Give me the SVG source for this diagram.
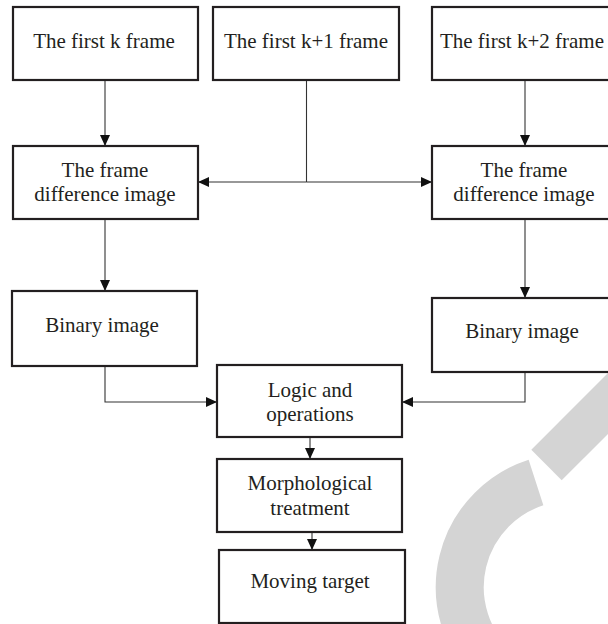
<svg xmlns="http://www.w3.org/2000/svg" width="608" height="624" viewBox="0 0 608 624">
<defs>
<style>
.box{fill:#fff;stroke:#231f20;stroke-width:2.2}
.lbl{font-family:"Liberation Serif","Times New Roman",serif;font-size:21px;fill:#231f20;text-anchor:middle}
.con{fill:none;stroke:#333;stroke-width:1.1}
.wm{fill:none;stroke:#d4d4d4}
</style>
<marker id="ah" markerUnits="userSpaceOnUse" markerWidth="11" markerHeight="10" refX="11" refY="5" orient="auto">
<path d="M0,0 L11,5 L0,10 z" fill="#111"/>
</marker>
</defs>
<rect width="608" height="624" fill="#fff"/>
<g id="watermark">
<path class="wm" stroke-width="48" d="M536,482.5 A110,110 0 0 0 492,665"/>
<path class="wm" stroke-width="43" d="M546.5,465 L680,331.5"/>
</g>
<g id="connectors">
<path class="con" d="M105,80 V146" marker-end="url(#ah)"/>
<path class="con" d="M525,80 V146" marker-end="url(#ah)"/>
<path class="con" d="M306.5,80 V182"/>
<path class="con" d="M306.5,182 H198" marker-end="url(#ah)"/>
<path class="con" d="M306.5,182 H432" marker-end="url(#ah)"/>
<path class="con" d="M105,219 V291" marker-end="url(#ah)"/>
<path class="con" d="M525,219 V298" marker-end="url(#ah)"/>
<path class="con" d="M105,366 V402 H217" marker-end="url(#ah)"/>
<path class="con" d="M525,372 V402 H402" marker-end="url(#ah)"/>
<path class="con" d="M310,437 V459" marker-end="url(#ah)"/>
<path class="con" d="M312,532 V550" marker-end="url(#ah)"/>
</g>
<g id="frame-k">
<rect class="box" x="13" y="7" width="185" height="73"/>
<text class="lbl" x="104" y="48">The first k frame</text>
</g>
<g id="frame-k1">
<rect class="box" x="213" y="7" width="186" height="73"/>
<text class="lbl" x="306" y="48">The first k+1 frame</text>
</g>
<g id="frame-k2">
<rect class="box" x="432" y="7" width="190" height="73"/>
<text class="lbl" x="522" y="48">The first k+2 frame</text>
</g>
<g id="diff-left">
<rect class="box" x="13" y="146" width="185" height="73"/>
<text class="lbl" x="105" y="177">The frame</text>
<text class="lbl" x="105" y="201">difference image</text>
</g>
<g id="diff-right">
<rect class="box" x="432" y="146" width="190" height="73"/>
<text class="lbl" x="524" y="177">The frame</text>
<text class="lbl" x="524" y="201">difference image</text>
</g>
<g id="binary-left">
<rect class="box" x="12" y="291" width="185" height="75"/>
<text class="lbl" x="102" y="332">Binary image</text>
</g>
<g id="binary-right">
<rect class="box" x="432" y="298" width="190" height="74"/>
<text class="lbl" x="522" y="338">Binary image</text>
</g>
<g id="logic">
<rect class="box" x="217" y="365" width="185" height="72"/>
<text class="lbl" x="310" y="397">Logic and</text>
<text class="lbl" x="310" y="421">operations</text>
</g>
<g id="morph">
<rect class="box" x="217" y="459" width="185" height="73"/>
<text class="lbl" x="310" y="490">Morphological</text>
<text class="lbl" x="310" y="515">treatment</text>
</g>
<g id="moving">
<rect class="box" x="219" y="550" width="186" height="73"/>
<text class="lbl" x="310" y="588">Moving target</text>
</g>
</svg>
